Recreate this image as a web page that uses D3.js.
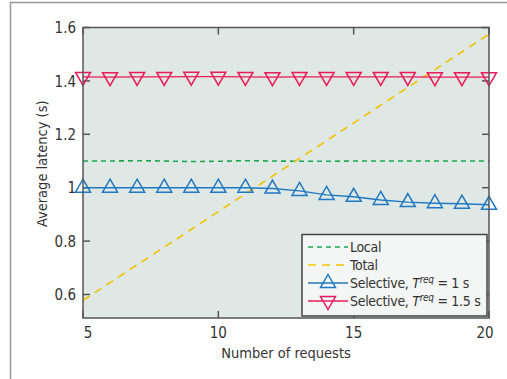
<!DOCTYPE html>
<html>
<head>
<meta charset="utf-8">
<script src="https://cdn.jsdelivr.net/npm/d3@7"></script>
<style>
  body { margin: 0; background: #fff; }
  svg text { font-family: "Liberation Sans Narrow", "DejaVu Sans Condensed", "Roboto", sans-serif; fill: #333; }
</style>
</head>
<body>
<div id="chart"></div>
<script>
// data
const requests = [5, 6, 7, 8, 9, 10, 11, 12, 13, 14, 15, 16, 17, 18, 19, 20];
const localLatency = [1.1, 1.1, 1.101, 1.1, 1.098, 1.099, 1.101, 1.1, 1.099, 1.099, 1.1, 1.1, 1.1, 1.1, 1.1, 1.1];
const totalRequests = [5, 20];
const totalLatency = [0.578, 1.575];
const selective1 = [1.0, 1.0, 1.0, 1.0, 1.0, 1.0, 1.0, 0.997, 0.988, 0.973, 0.966, 0.954, 0.946, 0.942, 0.94, 0.936];
const selective15 = [1.415, 1.414, 1.415, 1.415, 1.416, 1.416, 1.415, 1.414, 1.415, 1.415, 1.415, 1.415, 1.415, 1.414, 1.414, 1.414];
const xTicks = [5, 10, 15, 20];
const yTicks = [0.6, 0.8, 1, 1.2, 1.4, 1.6];

const margin = { top: 27.5, right: 18, bottom: 61, left: 83 };
const W = 507, H = 379;
const width = W - margin.left - margin.right;
const height = H - margin.top - margin.bottom;

const svg = d3.select("#chart").append("svg").attr("width", W).attr("height", H);

// outer frame (only top and left visible)
svg.append("path").attr("d", "M10.5,379V2.5H507").attr("fill", "none").attr("stroke", "#999").attr("stroke-width", 1.5);

const g = svg.append("g").attr("transform", "translate(" + margin.left + "," + margin.top + ")");

const xScale = d3.scaleLinear().domain([5, 20]).range([0, width]);
const yScale = d3.scaleLinear().domain([0.512, 1.6]).range([height, 0]);

g.append("rect").attr("width", width).attr("height", height).attr("fill", "#dfe8e4");

// ticks inward on all sides
const tickLen = 7;
const axisColor = "#555";
g.selectAll(".ytl").data(yTicks).join("line")
  .attr("x1", 0).attr("x2", tickLen)
  .attr("y1", d => yScale(d)).attr("y2", d => yScale(d))
  .attr("stroke", axisColor).attr("stroke-width", 1.5);
g.selectAll(".ytr").data(yTicks).join("line")
  .attr("x1", width).attr("x2", width - tickLen)
  .attr("y1", d => yScale(d)).attr("y2", d => yScale(d))
  .attr("stroke", axisColor).attr("stroke-width", 1.5);
g.selectAll(".xtb").data(xTicks).join("line")
  .attr("x1", d => xScale(d)).attr("x2", d => xScale(d))
  .attr("y1", height).attr("y2", height - tickLen)
  .attr("stroke", axisColor).attr("stroke-width", 1.5);
g.selectAll(".xtt").data(xTicks).join("line")
  .attr("x1", d => xScale(d)).attr("x2", d => xScale(d))
  .attr("y1", 0).attr("y2", tickLen)
  .attr("stroke", axisColor).attr("stroke-width", 1.5);

// tick labels
g.selectAll(".ylab").data(yTicks).join("text")
  .attr("x", -7).attr("y", d => yScale(d)).attr("dy", "0.38em")
  .attr("text-anchor", "end").attr("font-size", 15)
  .text(d => d);
g.selectAll(".xlab").data(xTicks).join("text")
  .attr("x", (d, i) => xScale(d) + (i === 0 ? 5 : i === xTicks.length - 1 ? -4 : 0))
  .attr("y", height + 20).attr("text-anchor", "middle").attr("font-size", 15)
  .text(d => d);

// axis titles
g.append("text").attr("x", width / 2).attr("y", height + 40)
  .attr("text-anchor", "middle").attr("font-size", 14.5).text("Number of requests");
g.append("text").attr("transform", "translate(" + (-36) + "," + (height / 2 - 9) + ") rotate(-90)")
  .attr("text-anchor", "middle").attr("font-size", 14.5).text("Average latency (s)");

// lines
const line = d3.line().x(d => xScale(d[0])).y(d => yScale(d[1]));
const green = "#1ea650", yellow = "#f2c200", blue = "#1f78c1", red = "#ea1b5c";

g.append("path").datum(d3.zip(requests, localLatency)).attr("d", line)
  .attr("fill", "none").attr("stroke", green).attr("stroke-width", 1.6).attr("stroke-dasharray", "5,4");
g.append("path").datum(d3.zip(totalRequests, totalLatency)).attr("d", line)
  .attr("fill", "none").attr("stroke", yellow).attr("stroke-width", 1.6).attr("stroke-dasharray", "8,6");
g.append("path").datum(d3.zip(requests, selective1)).attr("d", line)
  .attr("fill", "none").attr("stroke", blue).attr("stroke-width", 1.4);
g.append("path").datum(d3.zip(requests, selective15)).attr("d", line)
  .attr("fill", "none").attr("stroke", red).attr("stroke-width", 1.4);

const triUp = "M0,-8.5L7.5,4.5H-7.5Z";
const triDown = "M0,8.5L7.5,-4.5H-7.5Z";
g.selectAll(".m1").data(d3.zip(requests, selective1)).join("path")
  .attr("transform", d => "translate(" + xScale(d[0]) + "," + yScale(d[1]) + ")")
  .attr("d", triUp).attr("fill", "none").attr("stroke", blue).attr("stroke-width", 1.5);
g.selectAll(".m2").data(d3.zip(requests, selective15)).join("path")
  .attr("transform", d => "translate(" + xScale(d[0]) + "," + yScale(d[1]) + ")")
  .attr("d", triDown).attr("fill", "none").attr("stroke", red).attr("stroke-width", 1.5);

// plot frame
g.append("rect").attr("width", width).attr("height", height)
  .attr("fill", "none").attr("stroke", axisColor).attr("stroke-width", 1.5);

// legend
const lg = svg.append("g").attr("transform", "translate(302,234.5)");
lg.append("rect").attr("width", 185).attr("height", 81.5)
  .attr("fill", "#f3f6f4").attr("stroke", "#444").attr("stroke-width", 1.5);
const legendItems = [
  { color: green, dash: "5,4", marker: null, label: "Local" },
  { color: yellow, dash: "8,6", marker: null, label: "Total" },
  { color: blue, dash: null, marker: triUp, label: "Selective, ", t: "1 s" },
  { color: red, dash: null, marker: triDown, label: "Selective, ", t: "1.5 s" }
];
legendItems.forEach((it, i) => {
  const y = 12.5 + i * 18;
  lg.append("line").attr("x1", 6).attr("x2", 46).attr("y1", y).attr("y2", y)
    .attr("stroke", it.color).attr("stroke-width", 1.5)
    .attr("stroke-dasharray", it.dash);
  if (it.marker) {
    lg.append("path").attr("transform", "translate(26," + y + ")").attr("d", it.marker)
      .attr("fill", "none").attr("stroke", it.color).attr("stroke-width", 1.5);
  }
  const t = lg.append("text").attr("x", 48).attr("y", y + 5).attr("font-size", 14)
    .attr("letter-spacing", -0.3);
  t.append("tspan").text(it.label);
  if (it.t) {
    t.append("tspan").attr("font-style", "italic").text("T");
    t.append("tspan").attr("font-style", "italic").attr("font-size", 10).attr("dy", -5).text("req");
    t.append("tspan").attr("dy", 5).text(" = " + it.t);
  }
});
</script>
</body>
</html>
